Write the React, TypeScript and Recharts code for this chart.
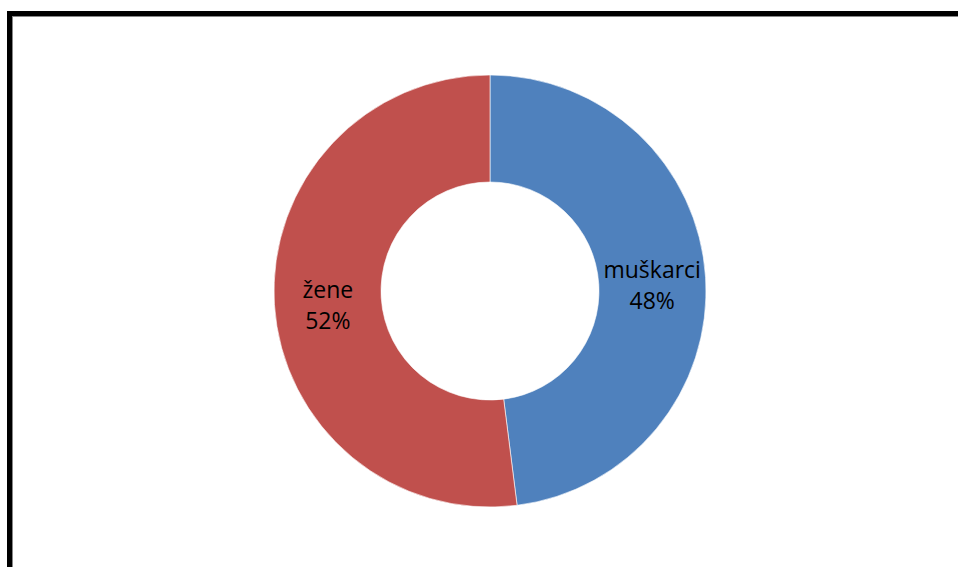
import { PieChart, Pie, Cell } from 'recharts';

const categories = ['muškarci', 'žene'];
const shares = [48, 52];
const colors = ['#4F81BD', '#C0504D'];

const data = categories.map((name, i) => ({ name, value: shares[i] }));

const RADIAN = Math.PI / 180;

const renderLabel = (props: any) => {
  const { cx, cy, midAngle, innerRadius, outerRadius, name, value } = props;
  const r = (innerRadius + outerRadius) / 2;
  const x = cx + r * Math.cos(-midAngle * RADIAN);
  const y = cy + r * Math.sin(-midAngle * RADIAN);
  return (
    <text
      x={x}
      y={y}
      textAnchor="middle"
      fill="#000"
      style={{ fontFamily: 'Open Sans', fontSize: 23 }}
    >
      <tspan x={x} dy={-3}>{name}</tspan>
      <tspan x={x} dy={31}>{value}%</tspan>
    </text>
  );
};

const App = () => {
  return (
    <div
      style={{
        position: 'fixed',
        left: 0,
        top: 0,
        width: 958,
        height: 567,
        overflow: 'hidden',
        background: '#fff',
      }}
    >
      <div
        style={{
          position: 'absolute',
          left: 7,
          top: 11,
          width: 1000,
          height: 1000,
          border: '5px solid #000',
          boxShadow: 'inset 1px 1px 0 #888',
        }}
      />
      <PieChart width={958} height={567} style={{ position: 'absolute', left: 0, top: 0 }}>
        <Pie
          data={data}
          dataKey="value"
          nameKey="name"
          cx={485}
          cy={286}
          innerRadius={109}
          outerRadius={216}
          startAngle={90}
          endAngle={-270}
          stroke="#ffffff"
          strokeWidth={0.6}
          label={renderLabel}
          labelLine={false}
          isAnimationActive={false}
        >
          {data.map((d, i) => (
            <Cell key={d.name} fill={colors[i]} />
          ))}
        </Pie>
      </PieChart>
    </div>
  );
};

export default App;
